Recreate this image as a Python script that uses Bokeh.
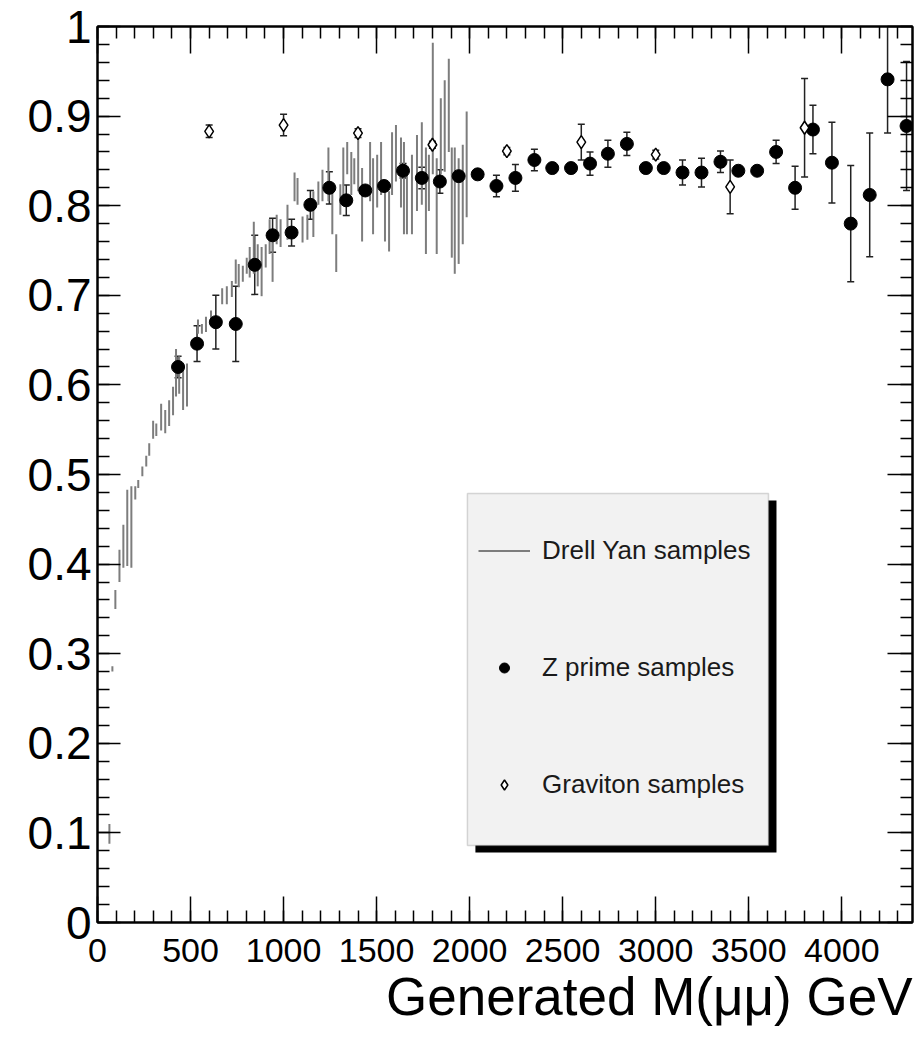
from bokeh.plotting import figure
from bokeh.models import (Range1d, LinearAxis, FixedTicker, ColumnDataSource, Whisker,
                          TeeHead, Legend, LegendItem, BoxAnnotation, Title)
from bokeh.embed import file_html
from bokeh.resources import INLINE

# ---------------- data ----------------
# Drell Yan samples: mass and lower / upper end of each vertical band
dy_mass = [64, 80, 96, 118, 139, 160, 182, 203, 219, 241, 262, 278, 299, 316, 342, 364,
           385, 406, 422, 439, 460, 481, 540, 561, 583, 610, 670, 695, 722, 743, 759, 781,
           802, 818, 840, 861, 882, 904, 925, 941, 963, 984, 1021, 1059, 1075, 1102, 1128,
           1160, 1187, 1209, 1241, 1262, 1283, 1305, 1321, 1342, 1364, 1380, 1401, 1422,
           1465, 1481, 1503, 1524, 1545, 1567, 1583, 1604, 1631, 1647, 1663, 1690, 1717,
           1743, 1765, 1781, 1802, 1823, 1845, 1866, 1888, 1904, 1920, 1941, 1963, 1984]
dy_lo = [0.088, 0.280, 0.350, 0.380, 0.396, 0.398, 0.396, 0.472, 0.485, 0.498, 0.509,
         0.521, 0.540, 0.543, 0.549, 0.546, 0.554, 0.566, 0.587, 0.590, 0.572, 0.576,
         0.657, 0.657, 0.659, 0.670, 0.690, 0.690, 0.698, 0.713, 0.709, 0.715, 0.724,
         0.720, 0.724, 0.710, 0.699, 0.731, 0.746, 0.715, 0.757, 0.754, 0.762, 0.805,
         0.801, 0.759, 0.762, 0.765, 0.801, 0.805, 0.805, 0.768, 0.726, 0.790, 0.812,
         0.835, 0.812, 0.824, 0.816, 0.760, 0.805, 0.768, 0.798, 0.812, 0.760, 0.749,
         0.812, 0.827, 0.798, 0.768, 0.768, 0.768, 0.794, 0.801, 0.746, 0.794, 0.835,
         0.746, 0.835, 0.838, 0.860, 0.742, 0.724, 0.735, 0.757, 0.787]
dy_hi = [0.110, 0.286, 0.371, 0.416, 0.444, 0.483, 0.487, 0.487, 0.494, 0.509, 0.521,
         0.535, 0.560, 0.557, 0.579, 0.572, 0.583, 0.598, 0.640, 0.632, 0.624, 0.624,
         0.673, 0.668, 0.676, 0.683, 0.708, 0.710, 0.716, 0.740, 0.735, 0.733, 0.742,
         0.754, 0.782, 0.757, 0.754, 0.757, 0.785, 0.771, 0.790, 0.785, 0.801, 0.837,
         0.831, 0.788, 0.790, 0.816, 0.827, 0.840, 0.865, 0.824, 0.768, 0.824, 0.865,
         0.871, 0.860, 0.853, 0.882, 0.842, 0.871, 0.853, 0.857, 0.871, 0.827, 0.816,
         0.882, 0.890, 0.876, 0.871, 0.842, 0.857, 0.879, 0.893, 0.865, 0.857, 0.982,
         0.853, 0.920, 0.940, 0.964, 0.865, 0.865, 0.853, 0.868, 0.905]

# Z prime samples
zp_mass = [433, 535, 636, 743, 845, 941, 1043, 1144, 1246, 1337, 1439, 1540, 1642, 1743,
           1840, 1941, 2043, 2144, 2246, 2348, 2444, 2545, 2647, 2743, 2845, 2947, 3043,
           3144, 3246, 3348, 3444, 3545, 3647, 3749, 3845, 3947, 4048, 4150, 4246, 4348]
zp_eff = [0.620, 0.646, 0.670, 0.668, 0.734, 0.767, 0.770, 0.801, 0.820, 0.806, 0.817,
          0.822, 0.839, 0.831, 0.827, 0.833, 0.835, 0.822, 0.831, 0.851, 0.842, 0.842,
          0.847, 0.858, 0.869, 0.842, 0.842, 0.837, 0.837, 0.849, 0.839, 0.839, 0.860,
          0.820, 0.885, 0.848, 0.780, 0.812, 0.941, 0.889]
zp_err = [0.012, 0.020, 0.030, 0.042, 0.033, 0.019, 0.015, 0.016, 0.018, 0.017, 0.005,
          0.005, 0.008, 0.012, 0.013, 0.003, 0.003, 0.012, 0.015, 0.012, 0.003, 0.003,
          0.013, 0.015, 0.013, 0.003, 0.003, 0.014, 0.016, 0.012, 0.003, 0.003, 0.013,
          0.024, 0.027, 0.045, 0.065, 0.069, 0.060, 0.072]

# Graviton samples
gr_mass = [600, 1000, 1400, 1800, 2200, 2600, 3000, 3400, 3800]
gr_eff = [0.883, 0.890, 0.881, 0.868, 0.861, 0.871, 0.857, 0.821, 0.887]
gr_err = [0.007, 0.012, 0.005, 0.004, 0.004, 0.020, 0.005, 0.030, 0.055]

x_ticks = [0, 500, 1000, 1500, 2000, 2500, 3000, 3500, 4000]
x_minor = list(range(0, 4400, 100))
y_ticks = [0, 0.1, 0.2, 0.3, 0.4, 0.5, 0.6, 0.7, 0.8, 0.9, 1.0]
y_tick_labels = ["0", "0.1", "0.2", "0.3", "0.4", "0.5", "0.6", "0.7", "0.8", "0.9", "1"]
y_minor = [i / 50 for i in range(0, 51)]

FONT = "Liberation Sans"

p = figure(width=914, height=1040, x_range=Range1d(0, 4380), y_range=Range1d(0, 1),
           output_backend="svg", toolbar_location=None,
           min_border_left=97, min_border_right=2, min_border_top=26, min_border_bottom=118)
p.xgrid.visible = False
p.ygrid.visible = False
p.outline_line_color = "black"
p.outline_line_width = 2
p.background_fill_color = "white"
p.border_fill_color = "white"


def style_axis(ax, major_in, minor_in, ticks, minors):
    ax.ticker = FixedTicker(ticks=ticks, minor_ticks=minors)
    ax.axis_line_color = "black"
    ax.axis_line_width = 2
    ax.major_tick_in = major_in
    ax.major_tick_out = 0
    ax.minor_tick_in = minor_in
    ax.minor_tick_out = 0
    ax.major_tick_line_color = "black"
    ax.minor_tick_line_color = "black"
    ax.major_tick_line_width = 1.5
    ax.minor_tick_line_width = 1.5


xa = p.xaxis[0]
style_axis(xa, 26, 12, x_ticks, x_minor)
xa.major_label_text_font = FONT
xa.major_label_text_font_size = "34px"
xa.major_label_text_color = "black"
xa.major_label_standoff = 16

ya = p.yaxis[0]
style_axis(ya, 23, 12, y_ticks, y_minor)
ya.major_label_overrides = {t: s for t, s in zip(y_ticks, y_tick_labels)}
ya.major_label_text_font = FONT
ya.major_label_text_font_size = "46px"
ya.major_label_text_color = "black"
ya.major_label_standoff = 6

# mirrored tick marks on top and right, without labels
top = LinearAxis()
style_axis(top, 27, 12, x_ticks, x_minor)
top.major_label_overrides = {t: "" for t in x_ticks}
top.major_label_text_font_size = "8px"
top.major_label_standoff = 0
p.add_layout(top, "above")

right = LinearAxis()
style_axis(right, 25, 12, y_ticks, y_minor)
right.major_label_overrides = {t: "" for t in y_ticks}
right.major_label_text_font_size = "8px"
right.major_label_standoff = 0
p.add_layout(right, "right")

p.add_layout(Title(text="Generated M(\u03bc\u03bc) GeV", align="right", text_font=FONT,
                   text_font_size="53px", text_font_style="normal", text_color="black",
                   standoff=0), "below")

# ---------------- marks ----------------
dy_src = ColumnDataSource(dict(x=dy_mass, lo=dy_lo, hi=dy_hi))
r_dy = p.segment(x0="x", y0="lo", x1="x", y1="hi", source=dy_src,
                 line_color="#7d7d7d", line_width=2)

zp_src = ColumnDataSource(dict(x=zp_mass, y=zp_eff,
                               lo=[v - e for v, e in zip(zp_eff, zp_err)],
                               hi=[v + e for v, e in zip(zp_eff, zp_err)]))
gr_src = ColumnDataSource(dict(x=gr_mass, y=gr_eff,
                               lo=[v - e for v, e in zip(gr_eff, gr_err)],
                               hi=[v + e for v, e in zip(gr_eff, gr_err)]))

for src in (zp_src, gr_src):
    w = Whisker(base="x", lower="lo", upper="hi", source=src, dimension="height",
                line_color="#222222", line_width=1.5,
                lower_head=TeeHead(size=7, line_color="#222222", line_width=1.5),
                upper_head=TeeHead(size=7, line_color="#222222", line_width=1.5))
    p.add_layout(w)

r_zp = p.scatter(x="x", y="y", source=zp_src, marker="circle", size=13,
                 fill_color="black", line_color="black")
r_gr = p.scatter(x="x", y="y", source=gr_src, marker="diamond", size=13,
                 fill_color="white", line_color="black", line_width=1.5)

# ---------------- legend ----------------
shadow = BoxAnnotation(left=2031, right=3649, top=0.471, bottom=0.0781,
                       fill_color="black", fill_alpha=1.0, line_alpha=0)
box = BoxAnnotation(left=1988, right=3606, top=0.4788, bottom=0.0859,
                    fill_color="#f2f2f2", fill_alpha=1.0, line_color="#808080", line_width=1.5)
p.add_layout(shadow)
p.add_layout(box)

legend = Legend(items=[LegendItem(label="Drell Yan samples", renderers=[r_dy]),
                       LegendItem(label="Z prime samples", renderers=[r_zp]),
                       LegendItem(label="Graviton samples", renderers=[r_gr])],
                location=(381, 122), glyph_width=52, glyph_height=25, label_height=25,
                label_standoff=12, spacing=86, padding=0, margin=0,
                background_fill_alpha=0, border_line_alpha=0,
                label_text_font=FONT, label_text_font_size="26px",
                label_text_color="#1a1a1a")
p.add_layout(legend)

open("out.html", "w").write(file_html(p, INLINE))
